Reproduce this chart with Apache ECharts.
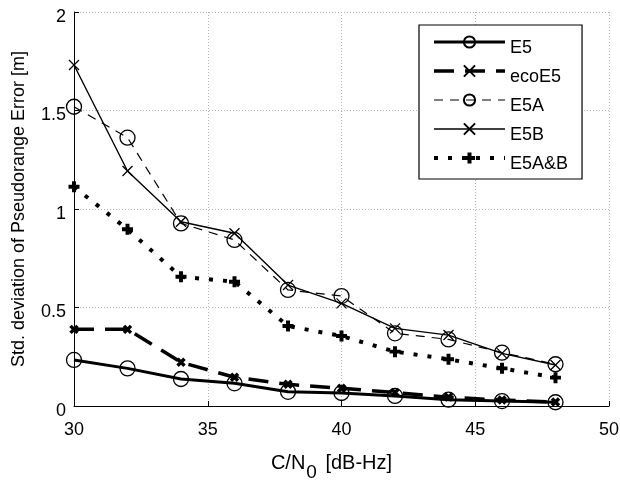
<!DOCTYPE html>
<html>
<head>
<meta charset="utf-8">
<script src="https://cdn.jsdelivr.net/npm/echarts@6/dist/echarts.min.js"></script>
<style>
  html, body { margin: 0; padding: 0; background: #fff; }
  #chart { width: 620px; height: 480px; }
</style>
</head>
<body>
<div id="chart"></div>
<script>
// Carrier-to-noise density ratio (dB-Hz)
const cn0 = [30, 32, 34, 36, 38, 40, 42, 44, 46, 48];

// Std. deviation of pseudorange error (m) per signal
const e5    = [0.234, 0.191, 0.137, 0.115, 0.072, 0.066, 0.051, 0.032, 0.025, 0.019];
const ecoE5 = [0.389, 0.389, 0.222, 0.146, 0.110, 0.090, 0.068, 0.045, 0.030, 0.020];
const e5a   = [1.519, 1.362, 0.927, 0.843, 0.589, 0.558, 0.369, 0.338, 0.271, 0.212];
const e5b   = [1.731, 1.193, 0.935, 0.877, 0.614, 0.521, 0.394, 0.360, 0.267, 0.208];
const e5ab  = [1.113, 0.897, 0.656, 0.631, 0.406, 0.355, 0.276, 0.237, 0.191, 0.144];

const seriesNames = ['E5', 'ecoE5', 'E5A', 'E5B', 'E5A&B'];
const xTicks = [30, 35, 40, 45, 50];
const yTicks = [0, 0.5, 1, 1.5, 2];

const FONT = '"Liberation Sans", Arial, Helvetica, sans-serif';
const crossPath = 'path://M0,0L10,10M0,10L10,0';
const plusPath = 'path://M3.2,0H6.8V3.2H10V6.8H6.8V10H3.2V6.8H0V3.2H3.2Z';

// line styles shared by the plotted series and their legend samples
const lineStyles = {
  'E5':    { color: '#000', width: 3 },
  'ecoE5': { color: '#000', width: 3.5, type: [20, 11] },
  'E5A':   { color: '#000', width: 1.2, type: [9, 7] },
  'E5B':   { color: '#000', width: 1.4 },
  'E5A&B': { color: '#000', width: 4, type: [4, 10], cap: 'butt' }
};

function pairs(ys) { return cn0.map((x, i) => [x, ys[i]]); }

const chart = echarts.init(document.getElementById('chart'), null, { renderer: 'canvas' });

chart.setOption({
  animation: false,
  backgroundColor: '#fff',
  textStyle: { fontFamily: FONT, color: '#000' },
  grid: {
    left: 74, right: 11, top: 12, bottom: 74,
    outerBoundsMode: 'none',
    show: false
  },
  xAxis: {
    type: 'value',
    min: xTicks[0], max: xTicks[xTicks.length - 1], interval: 5,
    axisLine: { show: true, lineStyle: { color: '#000', width: 1 } },
    axisTick: { show: true, inside: true, length: 5, lineStyle: { color: '#000' } },
    axisLabel: { color: '#000', fontSize: 18, fontFamily: FONT, margin: 15 },
    splitLine: { show: true, lineStyle: { color: '#b4b4b4', type: [1, 2], width: 1 } },
    name: 'C/N{sub|0} [dB-Hz]',
    nameLocation: 'middle',
    nameGap: 38,
    nameTextStyle: {
      color: '#000', fontSize: 20, fontFamily: FONT, padding: [0, 20, 0, 0],
      rich: { sub: { fontSize: 19, fontFamily: FONT, color: '#000', padding: [19, 3, 0, 1] } }
    }
  },
  yAxis: {
    type: 'value',
    min: yTicks[0], max: yTicks[yTicks.length - 1], interval: 0.5,
    axisLine: { show: true, lineStyle: { color: '#000', width: 1 } },
    axisTick: { show: true, inside: true, length: 5, lineStyle: { color: '#000' } },
    axisLabel: {
      color: '#000', fontSize: 18, fontFamily: FONT, margin: 8,
      verticalAlign: 'top', lineHeight: 10
    },
    splitLine: { show: true, lineStyle: { color: '#b4b4b4', type: [1, 2], width: 1 } },
    name: 'Std. deviation of Pseudorange Error [m]',
    nameLocation: 'middle',
    nameGap: 46,
    nameTextStyle: { color: '#000', fontSize: 18, fontFamily: FONT }
  },
  legend: {
    data: seriesNames.map(n => ({ name: n, lineStyle: lineStyles[n] })),
    orient: 'vertical',
    left: 419, top: 25,
    padding: [6, 14, 6, 13],
    itemWidth: 71, itemHeight: 14, itemGap: 3,
    backgroundColor: '#fff',
    borderColor: '#000', borderWidth: 1.2, borderRadius: 0,
    formatter: '{s| }\n{t|{name}}',
    textStyle: {
      color: '#000', fontSize: 18, fontFamily: FONT,
      rich: {
        s: { fontSize: 4, lineHeight: 12 },
        t: { fontSize: 18, fontFamily: FONT, color: '#000', lineHeight: 18 }
      }
    },
    selectedMode: false
  },
  series: [
    {
      name: 'E5', type: 'line', data: pairs(e5),
      symbol: 'circle', symbolSize: 15,
      itemStyle: { color: 'transparent', borderColor: '#000', borderWidth: 1.3 },
      lineStyle: lineStyles['E5']
    },
    {
      name: 'ecoE5', type: 'line', data: pairs(ecoE5),
      symbol: crossPath, symbolSize: 7,
      itemStyle: { color: 'transparent', borderColor: '#000', borderWidth: 3.5 },
      lineStyle: lineStyles['ecoE5']
    },
    {
      name: 'E5A', type: 'line', data: pairs(e5a),
      symbol: 'circle', symbolSize: 15,
      itemStyle: { color: 'transparent', borderColor: '#000', borderWidth: 1.3 },
      lineStyle: lineStyles['E5A']
    },
    {
      name: 'E5B', type: 'line', data: pairs(e5b),
      symbol: crossPath, symbolSize: 10,
      itemStyle: { color: 'transparent', borderColor: '#000', borderWidth: 1.3 },
      lineStyle: lineStyles['E5B']
    },
    {
      name: 'E5A&B', type: 'line', data: pairs(e5ab),
      symbol: plusPath, symbolSize: 11,
      itemStyle: { color: '#000', borderWidth: 0 },
      lineStyle: lineStyles['E5A&B']
    }
  ]
});
</script>
</body>
</html>
